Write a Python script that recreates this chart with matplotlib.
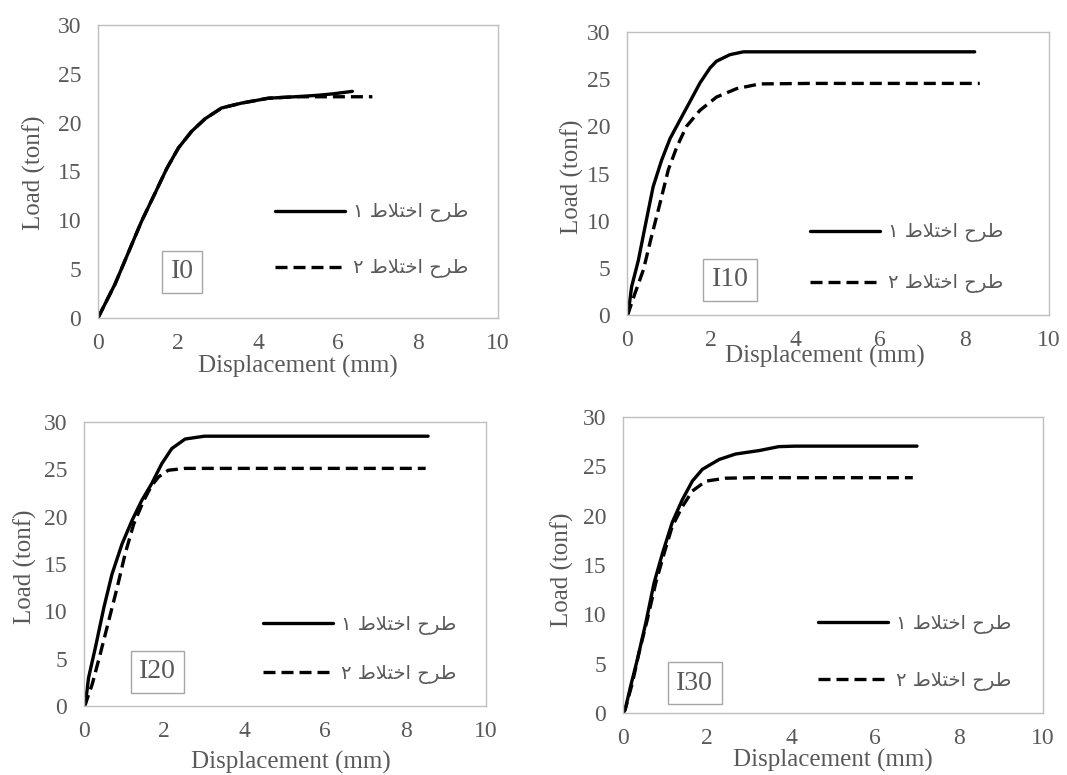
import matplotlib
matplotlib.use("Agg")
import matplotlib.pyplot as plt

# ---- data: load-displacement curves for each specimen ----
specimens = ["I0", "I10", "I20", "I30"]
mix_labels = ["طرح اختلاط ۱", "طرح اختلاط ۲"]

i0_mix1_x = [0, 0.43, 0.76, 1.09, 1.43, 1.72, 2.01, 2.34, 2.68, 3.09, 3.59, 4.26, 4.93, 5.5, 5.88, 6.36]
i0_mix1_y = [0, 3.5, 6.7, 9.9, 12.8, 15.3, 17.4, 19.1, 20.4, 21.5, 22.0, 22.5, 22.65, 22.8, 22.95, 23.2]
i0_mix2_x = [0, 0.43, 0.76, 1.09, 1.43, 1.72, 2.01, 2.34, 2.68, 3.09, 3.59, 4.26, 4.93, 6.86]
i0_mix2_y = [0, 3.5, 6.7, 9.9, 12.8, 15.3, 17.4, 19.1, 20.4, 21.5, 22.0, 22.5, 22.65, 22.65]

i10_mix1_x = [0, 0.03, 0.11, 0.27, 0.43, 0.62, 0.82, 1.02, 1.26, 1.49, 1.73, 1.97, 2.12, 2.44, 2.76, 8.24]
i10_mix1_y = [0, 0.2, 3.0, 5.8, 9.4, 13.6, 16.4, 18.7, 20.7, 22.6, 24.6, 26.2, 26.9, 27.6, 27.9, 27.9]
i10_mix2_x = [0, 0.03, 0.19, 0.39, 0.58, 0.78, 0.98, 1.18, 1.41, 1.73, 2.12, 2.6, 3.15, 4.34, 8.36]
i10_mix2_y = [0, 0.2, 2.3, 4.8, 8.3, 11.8, 15.4, 17.8, 20.0, 21.7, 23.1, 24.0, 24.5, 24.55, 24.55]

i20_mix1_x = [0, 0.04, 0.12, 0.29, 0.5, 0.7, 0.95, 1.2, 1.44, 1.69, 1.94, 2.19, 2.52, 3.0, 3.33, 8.56]
i20_mix1_y = [0, 0.2, 3.0, 6.2, 10.4, 13.9, 17.1, 19.6, 21.7, 23.5, 25.6, 27.2, 28.2, 28.5, 28.5, 28.5]
i20_mix2_x = [0, 0.04, 0.21, 0.41, 0.62, 0.83, 1.03, 1.24, 1.49, 1.69, 1.86, 2.1, 2.52, 8.5]
i20_mix2_y = [0, 0.2, 2.3, 5.5, 9.0, 12.5, 16.1, 19.2, 21.7, 23.3, 24.2, 24.9, 25.1, 25.1]

i30_mix1_x = [0, 0.05, 0.18, 0.34, 0.54, 0.74, 0.94, 1.17, 1.41, 1.65, 1.89, 2.29, 2.68, 3.24, 3.71, 4.11, 7.0]
i30_mix1_y = [0, 0.34, 2.7, 5.4, 9.1, 13.2, 16.2, 19.3, 21.6, 23.5, 24.7, 25.7, 26.25, 26.6, 27.0, 27.05, 27.05]
i30_mix2_x = [0, 0.05, 0.22, 0.38, 0.58, 0.78, 0.98, 1.17, 1.41, 1.65, 1.97, 2.44, 3.08, 6.9]
i30_mix2_y = [0, 0.34, 3.0, 6.1, 9.5, 13.2, 16.2, 18.9, 20.9, 22.5, 23.5, 23.8, 23.85, 23.85]

x_ticks = [0, 2, 4, 6, 8, 10]
y_ticks = [0, 5, 10, 15, 20, 25, 30]

curves = {
    "I0": ((i0_mix1_x, i0_mix1_y), (i0_mix2_x, i0_mix2_y)),
    "I10": ((i10_mix1_x, i10_mix1_y), (i10_mix2_x, i10_mix2_y)),
    "I20": ((i20_mix1_x, i20_mix1_y), (i20_mix2_x, i20_mix2_y)),
    "I30": ((i30_mix1_x, i30_mix1_y), (i30_mix2_x, i30_mix2_y)),
}

# ---- minimal Arabic shaping (matplotlib draws glyphs without joining / RTL) ----
_FORMS = {  # isolated, final, initial, medial
    "ا": (0xFE8D, 0xFE8E, None, None),
    "ر": (0xFEAD, 0xFEAE, None, None),
    "ت": (0xFE95, 0xFE96, 0xFE97, 0xFE98),
    "ح": (0xFEA1, 0xFEA2, 0xFEA3, 0xFEA4),
    "خ": (0xFEA5, 0xFEA6, 0xFEA7, 0xFEA8),
    "ط": (0xFEC1, 0xFEC2, 0xFEC3, 0xFEC4),
    "ل": (0xFEDD, 0xFEDE, 0xFEDF, 0xFEE0),
}
_LAM_ALEF = (0xFEFB, 0xFEFC)


def _shape_word(word):
    chars, i = [], 0
    while i < len(word):
        if word[i] == "ل" and i + 1 < len(word) and word[i + 1] == "ا":
            chars.append("لا")
            i += 2
        else:
            chars.append(word[i])
            i += 1

    def joins_next(c):
        return c in _FORMS and _FORMS[c][2] is not None

    def joins_prev(c):
        return c in _FORMS or c == "لا"

    out = []
    for k, c in enumerate(chars):
        prev = chars[k - 1] if k > 0 else None
        nxt = chars[k + 1] if k + 1 < len(chars) else None
        from_prev = prev is not None and joins_next(prev) and joins_prev(c)
        to_next = nxt is not None and joins_next(c) and joins_prev(nxt)
        if c == "لا":
            out.append(chr(_LAM_ALEF[1] if from_prev else _LAM_ALEF[0]))
        elif c in _FORMS:
            iso, fin, ini, med = _FORMS[c]
            if from_prev and to_next:
                g = med
            elif from_prev:
                g = fin
            elif to_next:
                g = ini
            else:
                g = iso
            out.append(chr(g))
        else:
            out.append(c)
    return "".join(reversed(out))


def rtl(text):
    return " ".join(_shape_word(w) for w in reversed(text.split(" ")))


# ---- styling ----
GRAY_TEXT = "#595959"
GRAY_FRAME = "#bfbfbf"
SERIF = "Liberation Serif"
LW = 2.4
DASH = (3.6, 1.8)

fig = plt.figure(figsize=(10.67, 7.75), dpi=100)

# axes rectangles (fig fraction) and per-panel placements
layout = {
    "I0":  dict(rect=[0.0918, 0.5897, 0.3749, 0.3781], box=(0.21, 0.157),
                leg=(0.4425, 0.265), lsp=1.85, xl=(0.50, -0.167), yl=(-0.158, 0.495)),
    "I10": dict(rect=[0.5876, 0.5935, 0.3955, 0.3652], box=(0.244, 0.124),
                leg=(0.434, 0.202), lsp=1.6, xl=(0.469, -0.148), yl=(-0.13, 0.488)),
    "I20": dict(rect=[0.0785, 0.0890, 0.3770, 0.3665], box=(0.183, 0.12),
                leg=(0.446, 0.199), lsp=1.5, xl=(0.515, -0.20), yl=(-0.146, 0.489)),
    "I30": dict(rect=[0.5839, 0.0800, 0.3936, 0.3819], box=(0.171, 0.101),
                leg=(0.464, 0.205), lsp=1.9, xl=(0.50, -0.159), yl=(-0.145, 0.483)),
}

for name in specimens:
    cfg = layout[name]
    ax = fig.add_axes(cfg["rect"])
    (x1, y1), (x2, y2) = curves[name]
    ax.plot(x1, y1, color="black", lw=LW, solid_joinstyle="round",
            solid_capstyle="round", label=rtl(mix_labels[0]))
    ax.plot(x2, y2, color="black", lw=LW, linestyle=(0, DASH),
            label=rtl(mix_labels[1]))

    ax.set_xlim(0, 10)
    ax.set_ylim(0, 30)
    ax.set_xticks(x_ticks)
    ax.set_yticks(y_ticks)
    ax.tick_params(length=0, labelsize=17, labelcolor=GRAY_TEXT)
    ax.tick_params(axis="x", pad=11)
    ax.tick_params(axis="y", pad=12)
    for lab in ax.get_xticklabels() + ax.get_yticklabels():
        lab.set_fontfamily(SERIF)
    for sp in ax.spines.values():
        sp.set_color(GRAY_FRAME)
        sp.set_linewidth(1.0)

    ax.set_xlabel("Displacement (mm)", fontsize=18, family=SERIF,
                  color=GRAY_TEXT, va="center")
    ax.xaxis.set_label_coords(*cfg["xl"])
    ax.set_ylabel("Load (tonf)", fontsize=18, family=SERIF,
                  color=GRAY_TEXT, va="center")
    ax.yaxis.set_label_coords(*cfg["yl"])

    ax.text(cfg["box"][0], cfg["box"][1], name, transform=ax.transAxes,
            ha="center", va="center", fontsize=20, family=SERIF,
            color=GRAY_TEXT,
            bbox=dict(boxstyle="square,pad=0.3", fc="white",
                      ec="#a6a6a6", lw=1.0))

    leg = ax.legend(loc="center left", bbox_to_anchor=cfg["leg"],
                    frameon=False, borderpad=0, borderaxespad=0,
                    handlelength=3.6, handletextpad=0.4,
                    labelspacing=cfg["lsp"],
                    prop={"family": ["DejaVu Sans"], "size": 14})
    for t in leg.get_texts():
        t.set_color(GRAY_TEXT)

fig.savefig("out.png", dpi=100)
